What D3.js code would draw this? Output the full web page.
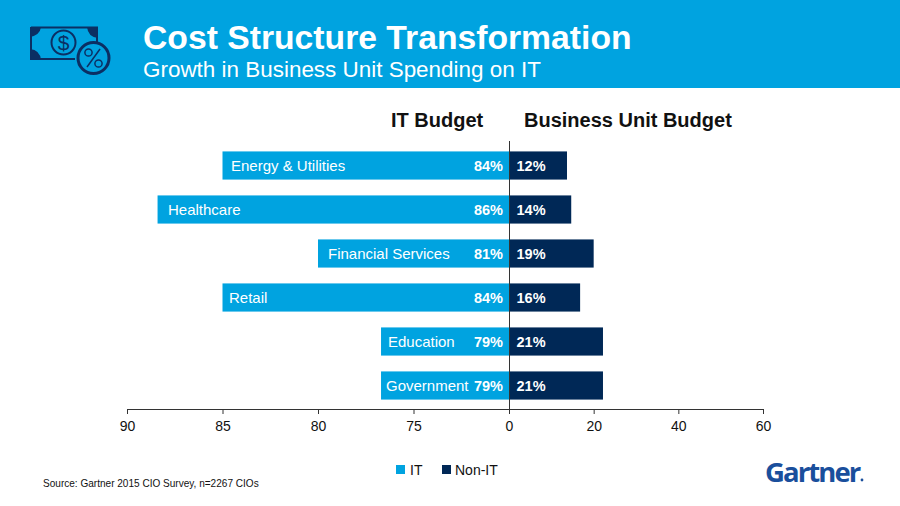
<!DOCTYPE html>
<html><head><meta charset="utf-8">
<script src="https://cdn.jsdelivr.net/npm/d3@7"></script>
<style>html,body{margin:0;padding:0;background:#fff}svg{display:block;font-family:"Liberation Sans",Arial,sans-serif}</style>
</head><body><div id="c"></div>
<script>
const categories=["Energy & Utilities","Healthcare","Financial Services","Retail","Education","Government"];
const itBars=[85,88.4,80,85,76.7,76.7];
const nonItBars=[13.7,14.7,20,16.8,22.2,22.2];
const itLabels=["84%","86%","81%","84%","79%","79%"];
const nonItLabels=["12%","14%","19%","16%","21%","21%"];
const leftTicks=[90,85,80,75];
const rightTicks=[0,20,40,60];
const catLabelX=[231,168,328,229,388,386];
const BLUE="#00a3e0",NAVY="#002856",ICON="#0b2f63";
const svg=d3.select("#c").append("svg").attr("width",900).attr("height",506);
svg.append("rect").attr("width",900).attr("height",88).attr("fill",BLUE);
svg.append("text").attr("x",143).attr("y",49).attr("fill","#fff").attr("font-size",33.7).attr("font-weight",700).text("Cost Structure Transformation");
svg.append("text").attr("x",143).attr("y",77).attr("fill","#fff").attr("font-size",22.45).text("Growth in Business Unit Spending on IT");
// icon
const ic=svg.append("g").attr("fill","none").attr("stroke",ICON);
ic.append("path").attr("stroke-width",2).attr("d","M31 27.5H97V42M75 59H31V27.5");
ic.append("path").attr("fill",ICON).attr("stroke","none").attr("d","M30 27H41Q40 35 30 37ZM87 27H98V38Q88 37 87 27ZM30 49Q40 50 41 60H30Z");
ic.append("circle").attr("cx",63.5).attr("cy",42.5).attr("r",12).attr("stroke-width",2);
ic.append("text").attr("x",63.5).attr("y",50).attr("text-anchor","middle").attr("fill",ICON).attr("stroke","none").attr("font-size",21).text("$");
ic.append("circle").attr("cx",93.5).attr("cy",58).attr("r",15.5).attr("stroke-width",3);
ic.append("line").attr("x1",87).attr("y1",67).attr("x2",100).attr("y2",49).attr("stroke-width",1.5);
ic.append("circle").attr("cx",88.5).attr("cy",52.5).attr("r",3.6).attr("stroke-width",1.5);
ic.append("circle").attr("cx",98.5).attr("cy",63.5).attr("r",3.6).attr("stroke-width",1.5);
// headers
svg.append("text").attr("x",391).attr("y",127).attr("font-size",20).attr("font-weight",700).attr("fill","#111").text("IT Budget");
svg.append("text").attr("x",524).attr("y",127).attr("font-size",20).attr("font-weight",700).attr("fill","#111").text("Business Unit Budget");
// scales
const y=d3.scaleBand().domain(categories).range([143.5,407.5]).paddingInner(0.36).paddingOuter(0.18);
const xL=d3.scaleLinear().domain([90,70]).range([127,509]);
const xR=d3.scaleLinear().domain([0,60]).range([509,763]);
const rows=categories.map((c,i)=>({c,i}));
svg.selectAll(".it").data(rows).join("rect").attr("x",d=>xL(itBars[d.i])).attr("y",d=>y(d.c)).attr("width",d=>xL(70)-xL(itBars[d.i])).attr("height",y.bandwidth()).attr("fill",BLUE);
svg.selectAll(".non").data(rows).join("rect").attr("x",xR(0)).attr("y",d=>y(d.c)).attr("width",d=>xR(nonItBars[d.i])-xR(0)).attr("height",y.bandwidth()).attr("fill",NAVY);
const mid=d=>y(d.c)+y.bandwidth()/2+5;
svg.selectAll(".cat").data(rows).join("text").attr("x",d=>catLabelX[d.i]).attr("y",mid).attr("fill","#fff").attr("font-size",15).text(d=>d.c);
svg.selectAll(".il").data(rows).join("text").attr("x",503).attr("y",mid).attr("text-anchor","end").attr("fill","#fff").attr("font-size",14.5).attr("font-weight",700).text(d=>itLabels[d.i]);
svg.selectAll(".nl").data(rows).join("text").attr("x",516.5).attr("y",mid).attr("fill","#fff").attr("font-size",14.5).attr("font-weight",700).text(d=>nonItLabels[d.i]);
// axes
const fmt=g=>{g.select(".domain").remove();g.selectAll(".tick line").attr("stroke","#333");g.selectAll("text").attr("fill","#111").attr("font-size",14).attr("font-family","Liberation Sans");};
svg.append("g").attr("transform","translate(0,409)").call(d3.axisBottom(xL).tickValues(leftTicks).tickFormat(d3.format("d")).tickSize(5).tickPadding(7)).call(fmt);
svg.append("g").attr("transform","translate(0,409)").call(d3.axisBottom(xR).tickValues(rightTicks).tickSize(5).tickPadding(7)).call(fmt);
svg.append("line").attr("x1",127).attr("x2",763).attr("y1",409.5).attr("y2",409.5).attr("stroke","#333");
svg.append("line").attr("x1",509.5).attr("x2",509.5).attr("y1",141).attr("y2",414).attr("stroke","#333");
// legend
svg.append("rect").attr("x",396).attr("y",465).attr("width",9).attr("height",9).attr("fill",BLUE);
svg.append("text").attr("x",410).attr("y",475).attr("font-size",14).attr("fill","#111").text("IT");
svg.append("rect").attr("x",442).attr("y",465).attr("width",9).attr("height",9).attr("fill",NAVY);
svg.append("text").attr("x",455).attr("y",475).attr("font-size",14).attr("fill","#111").text("Non-IT");
svg.append("text").attr("x",43).attr("y",487).attr("font-size",10.05).attr("fill","#111").text("Source: Gartner 2015 CIO Survey, n=2267 CIOs");
svg.append("text").attr("x",765).attr("y",481.5).attr("font-family","Open Sans").attr("font-size",27.5).attr("font-weight",700).attr("letter-spacing",-1.9).attr("fill","#1a4f9c").text("Gartner");
svg.append("circle").attr("cx",862).attr("cy",480).attr("r",1.4).attr("fill","#1a4f9c");
</script></body></html>
